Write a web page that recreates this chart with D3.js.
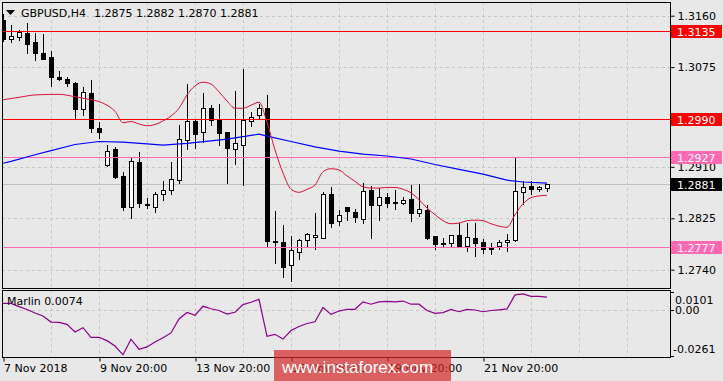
<!DOCTYPE html>
<html>
<head>
<meta charset="utf-8">
<script src="https://cdn.jsdelivr.net/npm/d3@7"></script>
<style>
  html, body { margin: 0; padding: 0; background: #e8e8e8; }
  svg { display: block; font-family: "DejaVu Sans", sans-serif; font-size: 11px; }
</style>
</head>
<body>
<div id="chart"></div>
<script>
// GBPUSD H4 candles (bar 0 = 7 Nov 20:00)
const opens = [1.3153,1.3121,1.3124,1.3131,1.3116,1.3099,1.3091,1.3058,1.3056,1.3049,
  1.3005,1.3032,1.2974,1.2913,1.2940,1.2895,1.2843,1.2918,1.2849,1.2844,
  1.2865,1.2871,1.2888,1.2954,1.2986,1.2967,1.3008,1.2988,1.2968,1.2939,
  1.2947,1.2986,1.2995,1.3008,1.2788,1.2786,1.2747,1.2770,1.2789,1.2794,
  1.2793,1.2866,1.2820,1.2843,1.2835,1.2824,1.2871,1.2847,1.2860,1.2852,
  1.2851,1.2857,1.2833,1.2839,1.2795,1.2784,1.2784,1.2797,1.2780,1.2792,
  1.2785,1.2774,1.2779,1.2785,1.2789,1.2869,1.2878,1.2873,1.2875];
const highs = [1.3163,1.3145,1.3136,1.3148,1.3131,1.3130,1.3101,1.3068,1.3059,1.3050,
  1.3042,1.3054,1.2985,1.2946,1.2943,1.2901,1.2927,1.2935,1.2858,1.2869,
  1.2887,1.2918,1.2979,1.3047,1.2989,1.3033,1.3013,1.3014,1.2968,1.3036,
  1.3072,1.3001,1.3014,1.3029,1.2837,1.2814,1.2795,1.2791,1.2800,1.2834,
  1.2869,1.2877,1.2838,1.2844,1.2840,1.2883,1.2879,1.2875,1.2867,1.2871,
  1.2860,1.2880,1.2882,1.2847,1.2795,1.2792,1.2798,1.2817,1.2817,1.2817,
  1.2790,1.2784,1.2789,1.2799,1.2927,1.2886,1.2886,1.2879,1.2882];
const lows = [1.3118,1.3117,1.3119,1.3098,1.3086,1.3089,1.3043,1.3053,1.3043,1.2991,
  1.2996,1.2967,1.2957,1.2912,1.2891,1.2839,1.2826,1.2843,1.2842,1.2835,
  1.2855,1.2865,1.2884,1.2939,1.2942,1.2951,1.2979,1.2947,1.2884,1.2915,
  1.2880,1.2978,1.2990,1.2778,1.2751,1.2728,1.2722,1.2758,1.2780,1.2775,
  1.2792,1.2810,1.2814,1.2822,1.2819,1.2818,1.2792,1.2822,1.2843,1.2840,
  1.2848,1.2821,1.2828,1.2790,1.2775,1.2778,1.2780,1.2778,1.2771,1.2763,
  1.2767,1.2766,1.2775,1.2771,1.2788,1.2849,1.2866,1.2870,1.2870];
const closes = [1.3121,1.3126,1.3133,1.3114,1.3099,1.3089,1.3058,1.3055,1.3048,1.3006,
  1.3034,1.2975,1.2968,1.2937,1.2894,1.2843,1.2920,1.2850,1.2847,1.2865,
  1.2872,1.2890,1.2956,1.2986,1.2965,1.3007,1.2987,1.2966,1.2941,1.2949,
  1.2988,1.2993,1.3008,1.2788,1.2785,1.2745,1.2773,1.2789,1.2799,1.2797,
  1.2866,1.2818,1.2830,1.2837,1.2827,1.2870,1.2847,1.2860,1.2851,1.2851,
  1.2855,1.2833,1.2840,1.2792,1.2783,1.2784,1.2798,1.2780,1.2794,1.2784,
  1.2774,1.2776,1.2785,1.2789,1.2870,1.2876,1.2874,1.2877,1.2881];

// slow moving average (blue), sampled at bar indices
const slowIdx = [0,1,4,6,9,12,15,18,20,23,26,28,31,32,33,36,39,42,45,48,51,54,57,60,63,65,68];
const slowVal = [1.2916,1.2919,1.2930,1.2937,1.2947,1.2952,1.2951,1.2948,1.2946,1.2949,1.2953,1.2956,
  1.2962,1.2964,1.2961,1.2952,1.2943,1.2936,1.2931,1.2928,1.2923,1.2914,1.2906,1.2898,1.2888,1.2885,1.2883];

// fast moving average (crimson)
const fastIdx = [0,2,4,7,9,11,12,13,14,15,16,17,18,19,20,21,22,23,24,25,26,27,28,29,30,31,32,33,34,35,
  36,37,38,39,40,41,42,43,44,45,46,47,48,49,50,51,52,53,54,55,56,57,58,59,60,61,62,63,64,65,66,67,68];
const fastVal = [1.3021,1.3025,1.3029,1.3030,1.3026,1.3021,1.3018,1.3012,1.3002,1.2983,1.2985,1.2981,
  1.2978,1.2980,1.2986,1.2994,1.3007,1.3029,1.3044,1.3050,1.3047,1.3034,1.3019,1.3007,1.3007,1.3012,
  1.3017,1.2984,1.2938,1.2900,1.2873,1.2868,1.2873,1.2880,1.2902,1.2907,1.2905,1.2895,1.2886,1.2877,
  1.2875,1.2875,1.2876,1.2876,1.2873,1.2867,1.2856,1.2842,1.2831,1.2821,1.2816,1.2817,1.2821,1.2822,
  1.2821,1.2816,1.2812,1.2810,1.2831,1.2849,1.2859,1.2862,1.2863];

// Marlin oscillator, one value per bar
const marlin = [0.0038,0.0038,0.0019,0.0003,-0.0017,-0.0034,-0.0069,-0.0071,-0.0082,-0.0126,
  -0.0101,-0.0156,-0.0156,-0.0175,-0.0206,-0.0256,-0.0167,-0.0224,-0.0211,-0.0183,
  -0.0158,-0.0131,-0.0051,-0.0014,-0.0030,0.0021,0.0007,-0.0003,-0.0023,-0.0013,
  0.0031,0.0044,0.0061,-0.0150,-0.0139,-0.0166,-0.0117,-0.0094,-0.0077,-0.0067,
  0.0014,-0.0025,-0.0006,0.0004,0.0004,0.0046,0.0033,0.0046,0.0049,0.0046,
  0.0051,0.0033,0.0033,-0.0003,-0.0019,-0.0015,0.0003,-0.0010,0.0003,0.0000,
  -0.0010,-0.0003,0.0001,0.0006,0.0086,0.0092,0.0078,0.0078,0.0074];

const priceTicks = [1.3160, 1.3075, 1.2990, 1.2910, 1.2825, 1.2740];
const redLevels = [1.3135, 1.2990];
const pinkLevels = [1.2927, 1.2777];
const lastPrice = 1.2881;
const marlinTicks = [0.0101, 0, -0.0261];
const marlinTickLabels = ["0.0101", "0.00", "-0.0261"];
const timeIdx = [0, 12, 24, 36, 48, 60];
const timeLabels = ["7 Nov 2018", "9 Nov 20:00", "13 Nov 20:00", "15 Nov 20:00", "19 Nov 20:00", "21 Nov 20:00"];
const gridIdx = [6, 12, 18, 24, 30, 36, 42, 48, 54, 60, 66, 72, 78];

const width = 723;
const height = 381;
const left = 2, right = 670;
const mainTop = 2, mainBottom = 288;
const indTop = 290, indBottom = 357;

const x = d3.scaleLinear().domain([0, 68]).range([3, 547]);
const y = d3.scaleLinear().domain([1.2740, 1.3160]).range([269.7, 15.7]);
const yInd = d3.scaleLinear().domain([-0.0261, 0.0101]).range([355.7, 292.3]);
const px = v => Math.round(v) + 0.5;

const svg = d3.select("#chart").append("svg")
    .attr("width", width)
    .attr("height", height);

svg.append("rect").attr("width", width).attr("height", height).attr("fill", "#e8e8e8");

const defs = svg.append("defs");
defs.append("clipPath").attr("id", "clipMain").append("rect")
    .attr("x", left + 1).attr("y", mainTop + 1)
    .attr("width", right - left - 1).attr("height", mainBottom - mainTop - 1);
defs.append("clipPath").attr("id", "clipInd").append("rect")
    .attr("x", left + 1).attr("y", indTop + 1)
    .attr("width", right - left - 1).attr("height", indBottom - indTop - 1);

const main = svg.append("g").attr("clip-path", "url(#clipMain)");
const ind = svg.append("g").attr("clip-path", "url(#clipInd)");

// dashed grid
const gridStyle = sel => sel.attr("stroke", "#c6c6c6").attr("stroke-dasharray", "3,3")
    .attr("shape-rendering", "crispEdges");
main.selectAll(".vgrid").data(gridIdx).join("line")
    .attr("x1", d => px(x(d))).attr("x2", d => px(x(d)))
    .attr("y1", mainTop).attr("y2", mainBottom)
    .call(gridStyle);
main.selectAll(".hgrid").data(priceTicks).join("line")
    .attr("x1", left).attr("x2", right)
    .attr("y1", d => px(y(d))).attr("y2", d => px(y(d)))
    .call(gridStyle);
ind.selectAll(".vgrid").data(gridIdx).join("line")
    .attr("x1", d => px(x(d))).attr("x2", d => px(x(d)))
    .attr("y1", indTop).attr("y2", indBottom)
    .call(gridStyle);
ind.append("line")
    .attr("x1", left).attr("x2", right)
    .attr("y1", px(yInd(0))).attr("y2", px(yInd(0)))
    .call(gridStyle);

// last price line
main.append("line")
    .attr("x1", left).attr("x2", right)
    .attr("y1", px(y(lastPrice))).attr("y2", px(y(lastPrice)))
    .attr("stroke", "#c0c0c0").attr("shape-rendering", "crispEdges");

// candles
const bars = d3.range(opens.length).map(i => ({
    i, o: opens[i], h: highs[i], l: lows[i], c: closes[i]
}));

main.selectAll(".wick").data(bars).join("line")
    .attr("x1", d => px(x(d.i))).attr("x2", d => px(x(d.i)))
    .attr("y1", d => Math.round(y(d.h))).attr("y2", d => Math.round(y(d.l)) + 1)
    .attr("stroke", "#000").attr("shape-rendering", "crispEdges");

main.selectAll(".body").data(bars).join("rect")
    .attr("x", d => Math.round(x(d.i)) - 2 + 0.5)
    .attr("y", d => Math.round(y(Math.max(d.o, d.c))) + 0.5)
    .attr("width", 4)
    .attr("height", d => Math.max(1, Math.round(y(Math.min(d.o, d.c))) - Math.round(y(Math.max(d.o, d.c)))))
    .attr("fill", d => d.c > d.o ? "#fff" : "#000")
    .attr("stroke", "#000")
    .attr("shape-rendering", "crispEdges");

// horizontal levels
main.selectAll(".red-level").data(redLevels).join("line")
    .attr("x1", left).attr("x2", right)
    .attr("y1", d => px(y(d))).attr("y2", d => px(y(d)))
    .attr("stroke", "#ff0000").attr("shape-rendering", "crispEdges");
main.selectAll(".pink-level").data(pinkLevels).join("line")
    .attr("x1", left).attr("x2", right)
    .attr("y1", d => px(y(d))).attr("y2", d => px(y(d)))
    .attr("stroke", "#ff69b4").attr("shape-rendering", "crispEdges");

// moving averages
const slowLine = d3.line().x(d => x(d[0])).y(d => y(d[1]));
main.append("path")
    .datum(d3.zip(slowIdx, slowVal))
    .attr("d", slowLine)
    .attr("fill", "none").attr("stroke", "#0000ff").attr("stroke-width", 1.2);
main.append("path")
    .datum(d3.zip(fastIdx, fastVal))
    .attr("d", d3.line().x(d => x(d[0])).y(d => y(d[1])).curve(d3.curveMonotoneX))
    .attr("fill", "none").attr("stroke", "#dc143c").attr("stroke-width", 1);

// Marlin oscillator
ind.append("path")
    .datum(marlin)
    .attr("d", d3.line().x((d, i) => x(i)).y(d => yInd(d)))
    .attr("fill", "none").attr("stroke", "#8b008b").attr("stroke-width", 1.2);

// panel frames
svg.append("rect")
    .attr("x", left + 0.5).attr("y", mainTop + 0.5)
    .attr("width", right - left).attr("height", mainBottom - mainTop)
    .attr("fill", "none").attr("stroke", "#000").attr("shape-rendering", "crispEdges");
svg.append("rect")
    .attr("x", left + 0.5).attr("y", indTop + 0.5)
    .attr("width", right - left).attr("height", indBottom - indTop)
    .attr("fill", "none").attr("stroke", "#000").attr("shape-rendering", "crispEdges");

// price axis
const priceAxis = d3.axisRight(y).tickValues(priceTicks).tickSize(4).tickPadding(3)
    .tickFormat(d3.format(".4f"));
const pa = svg.append("g")
    .attr("transform", `translate(${right + 0.5},0)`)
    .call(priceAxis);
pa.select(".domain").remove();
pa.selectAll("text").attr("font-family", "DejaVu Sans").attr("font-size", 11).attr("fill", "#000");
pa.selectAll("line").attr("stroke", "#000");

// level tags on the axis
const tags = [
    ...redLevels.map(v => ({ v, bg: "#ff0000" })),
    ...pinkLevels.map(v => ({ v, bg: "#ff69b4" })),
    { v: lastPrice, bg: "#000000" }
];
const tag = svg.selectAll(".tag").data(tags).join("g")
    .attr("transform", d => `translate(${right + 1},${Math.round(y(d.v))})`);
tag.append("rect")
    .attr("x", 0).attr("y", -6).attr("width", 51).attr("height", 13)
    .attr("fill", d => d.bg);
tag.append("text")
    .attr("x", 6).attr("y", 4.5)
    .attr("fill", "#fff")
    .text(d => d3.format(".4f")(d.v));

// Marlin axis
const ma = svg.append("g");
ma.selectAll("line").data(marlinTicks).join("line")
    .attr("x1", right).attr("x2", right + 4)
    .attr("y1", d => px(yInd(d))).attr("y2", d => px(yInd(d)))
    .attr("stroke", "#000").attr("shape-rendering", "crispEdges");
ma.selectAll("text").data(marlinTicks).join("text")
    .attr("x", (d, i) => i === 2 ? right + 3 : right + 5)
    .attr("y", d => Math.min(Math.max(yInd(d), 299.7), 349.3) + 4)
    .attr("fill", "#000")
    .text((d, i) => marlinTickLabels[i]);

// time axis
const timeAxis = d3.axisBottom(x).tickValues(timeIdx).tickSize(4).tickPadding(3)
    .tickFormat((d, i) => timeLabels[i]);
const ta = svg.append("g")
    .attr("transform", `translate(0.5,${indBottom + 0.5})`)
    .call(timeAxis);
ta.select(".domain").remove();
ta.selectAll("line").attr("stroke", "#000");
ta.selectAll("text").attr("font-family", "DejaVu Sans").attr("font-size", 11)
    .attr("fill", "#000").attr("text-anchor", "start").attr("x", 0);

// title
svg.append("path").attr("d", "M6,10L15,10L10.5,15Z").attr("fill", "#000");
svg.append("text").attr("x", 21).attr("y", 17).text("GBPUSD,H4");
svg.append("text").attr("x", 94).attr("y", 17)
    .text([opens[68], highs[68], lows[68], closes[68]].map(d3.format(".4f")).join(" "));
svg.append("text").attr("x", 7).attr("y", 305)
    .text("Marlin " + d3.format(".4f")(marlin[marlin.length - 1]));

// watermark
svg.append("rect")
    .attr("x", 274).attr("y", 350).attr("width", 177).attr("height", 31)
    .attr("fill", "#d62828").attr("opacity", 0.7);
svg.append("text")
    .attr("x", 282).attr("y", 373)
    .attr("font-family", "Liberation Sans, Arial, sans-serif")
    .attr("font-size", 17)
    .attr("fill", "#fff")
    .text("www.instaforex.com");
</script>
</body>
</html>
